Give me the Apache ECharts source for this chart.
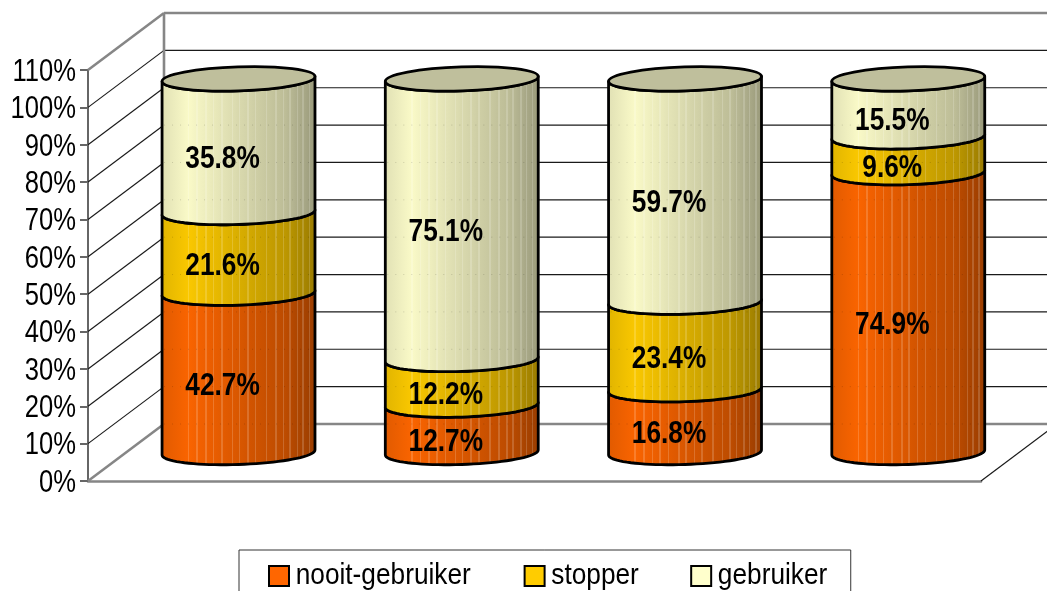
<!DOCTYPE html>
<html><head><meta charset="utf-8">
<style>html,body{margin:0;padding:0;background:#fff;overflow:hidden}#c{width:1047px;height:591px}</style>
<script src="https://cdn.jsdelivr.net/npm/echarts@6/dist/echarts.min.js"></script>
</head><body><div id="c"></div>
<script>
var categories = ['Groep 1', 'Groep 2', 'Groep 3', 'Groep 4'];
var seriesNames = ['nooit-gebruiker', 'stopper', 'gebruiker'];
var nooitGebruiker = [42.7, 12.7, 16.8, 74.9];
var stopper = [21.6, 12.2, 23.4, 9.6];
var gebruiker = [35.8, 75.1, 59.7, 15.5];
var gridTicks = [0,10,20,30,40,50,60,70,80,90,100,110];
var shineTicks = [0,10,20,30,40,50,60,70,80];

var values = [nooitGebruiker, stopper, gebruiker];
var DEPTH_X = 76, DEPTH_Y = -57, BASE_X = 38.9, BASE_Y = -28.5;
var RY = 12, TILT = 2.5, BAR_RATIO = 0.685;
var FONT = '"Liberation Sans",Arial,sans-serif';
var stripes = [.18,.235,.29,.34,.395,.46,.505,.56,.61,.68,.74,.79,.83,.88,.915,.955];

function mix(c, f){
  return 'rgb(' + c.map(function(v){return Math.round(v*f);}).join(',') + ')';
}
function shadeAt(t){
  var pts = [[0,.88],[.12,1],[.5,.85],[.8,.74],[1,.6]];
  for (var i=1;i<pts.length;i++){
    if (t<=pts[i][0]){
      var a=pts[i-1], b=pts[i];
      return a[1]+(b[1]-a[1])*(t-a[0])/(b[0]-a[0]);
    }
  }
  return .6;
}
function lightenMix(c,f,amt){
  return 'rgb(' + c.map(function(v){var x=v*f; return Math.round(x+(255-x)*amt);}).join(',') + ')';
}
function gradient(c){
  var stops = [];
  var w = .005;
  var ts = [0].concat(stripes).concat([1]);
  for (var i=0;i<ts.length-1;i++){
    var a=ts[i], b=ts[i+1];
    stops.push({offset:a+(i?w:0), color:mix(c,shadeAt(a))});
    stops.push({offset:b-w, color:mix(c,shadeAt(b))});
    if (i<ts.length-2){
      stops.push({offset:b-w, color:lightenMix(c,shadeAt(b),.17)});
      stops.push({offset:b+w, color:lightenMix(c,shadeAt(b),.17)});
    }
  }
  return {type:'linear',x:0,y:0,x2:1,y2:0,colorStops:stops};
}
var baseColors = [[255,102,0],[255,204,0],[255,255,204]];
var flatColors = ['#FF6600','#FFCC00','#FFFFCC'];

function arc(cx,cy,rx,fromLeft){
  var out=[];
  for (var i=0;i<=40;i++){
    var t=Math.PI*i/40;
    out.push([cx-rx*Math.cos(t), cy+RY*Math.sin(t)+TILT*Math.cos(t)]);
  }
  return fromLeft?out:out.reverse();
}
function centre(api,cat,val){
  var p=api.coord([cat,val]);
  return [p[0]+BASE_X,p[1]+BASE_Y];
}

function stackData(si){
  return categories.map(function(_,ci){
    var total=0,start=0;
    values.forEach(function(s,k){total+=s[ci]; if(k<si) start+=s[ci];});
    var a=start/total*100, b=(start+values[si][ci])/total*100;
    return [ci,a,b,values[si][ci]];
  });
}

function renderSegment(si){
  return function(params,api){
    var cat=api.value(0), a=api.value(1), b=api.value(2);
    var rx=api.size([1,0])[0]*BAR_RATIO/2;
    var pa=centre(api,cat,a), pb=centre(api,cat,b);
    var lower=arc(pa[0],pa[1],rx,true);
    var upper=arc(pb[0],pb[1],rx,false);
    var outline=lower.concat(upper);
    var kids=[{type:'polygon',shape:{points:outline},
      style:{fill:gradient(baseColors[si]),stroke:'#000',lineWidth:2.8,lineJoin:'round'}}];
    if (si===values.length-1){
      kids.push({type:'ellipse',
        shape:{cx:0,cy:0,rx:rx,ry:RY},
        x:pb[0],y:pb[1],rotation:Math.atan2(TILT,rx),
        style:{fill:'#BFBF9C',stroke:'#000',lineWidth:2.8}});
    }
    return {type:'group',children:kids};
  };
}

var series=[];
// walls
series.push({type:'custom',silent:true,z:1,coordinateSystem:'cartesian2d',
  data:gridTicks.map(function(t){return [0,t];}),
  encode:{x:0,y:1},clip:false,
  renderItem:function(params,api){
    var t=api.value(1);
    var left=api.coord([0,t]);
    var x0=params.coordSys.x, xr=x0+params.coordSys.width;
    var y=left[1];
    var edge=(t===0||t===110);
    var col=edge?'#868686':'#1a1a1a', lw=edge?2.6:1.2;
    var kids=[
      {type:'line',shape:{x1:x0,y1:y,x2:x0+DEPTH_X,y2:y+DEPTH_Y},style:{stroke:col,lineWidth:lw}},
      {type:'line',shape:{x1:x0+DEPTH_X,y1:y+DEPTH_Y,x2:xr+DEPTH_X,y2:y+DEPTH_Y},style:{stroke:col,lineWidth:lw}}
    ];
    if (t===0){
      kids.push({type:'line',shape:{x1:xr,y1:y,x2:xr+DEPTH_X,y2:y+DEPTH_Y},style:{stroke:'#1a1a1a',lineWidth:1.2}});
    }
    if (t===110){
      var yb=api.coord([0,0])[1];
      kids.push({type:'line',shape:{x1:x0+DEPTH_X,y1:y+DEPTH_Y,x2:x0+DEPTH_X,y2:yb+DEPTH_Y},style:{stroke:'#868686',lineWidth:2.6}});
    }
    return {type:'group',children:kids};
  }});
// cylinders
values.forEach(function(s,si){
  series.push({type:'custom',name:seriesNames[si],silent:true,z:3,coordinateSystem:'cartesian2d',
    itemStyle:{color:flatColors[si],borderColor:'#000',borderWidth:2},
    data:stackData(si),encode:{x:0,y:[1,2]},clip:false,
    renderItem:renderSegment(si)});
});
// faint see-through of the back gridlines on the cylinders
var shineData=[];
categories.forEach(function(_,ci){shineTicks.forEach(function(t){shineData.push([ci,t]);});});
series.push({type:'custom',silent:true,z:4,coordinateSystem:'cartesian2d',data:shineData,encode:{x:0,y:1},clip:false,
  renderItem:function(params,api){
    var c=api.value(0), t=api.value(1);
    var p=api.coord([c,t]);
    var rx=api.size([1,0])[0]*BAR_RATIO/2;
    var y=p[1]+DEPTH_Y;
    var cx=p[0]+BASE_X;
    return {type:'line',shape:{x1:cx-rx+2,y1:y,x2:cx+rx-2,y2:y},
      style:{stroke:'rgba(0,0,0,.16)',lineWidth:1,lineDash:[1,7]}};
  }});
// labels
var labelData=[];
values.forEach(function(s,si){stackData(si).forEach(function(d){labelData.push(d);});});
series.push({type:'custom',silent:true,z:5,coordinateSystem:'cartesian2d',data:labelData,encode:{x:0,y:[1,2]},clip:false,
  renderItem:function(params,api){
    var c=centre(api,api.value(0),(api.value(1)+api.value(2))/2);
    return {type:'text',x:c[0]-16,y:c[1]+13,scaleX:.82,
      style:{text:api.value(3).toFixed(1)+'%',font:'bold 32px '+FONT,fill:'#000',align:'center',verticalAlign:'middle'}};
  }});

var chart=echarts.init(document.getElementById('c'),null,{renderer:'canvas'});
chart.setOption({
  animation:false,
  backgroundColor:'#fff',
  grid:{left:88,top:70,width:893,height:411,containLabel:false,outerBoundsMode:'none'},
  xAxis:{type:'category',data:categories,
    axisLine:{lineStyle:{color:'#868686',width:2.6}},axisTick:{show:false},axisLabel:{show:false}},
  yAxis:{type:'value',min:0,max:110,interval:10,
    axisLine:{show:true,lineStyle:{color:'#666',width:2}},
    axisTick:{show:true,length:8,lineStyle:{color:'#666',width:2}},
    splitLine:{show:false},
    axisLabel:{margin:12,color:'#000',fontSize:32,fontFamily:FONT,formatter:'{value}%'}},
  legend:{left:239,top:550,padding:[11,15,30,29],itemGap:24,itemWidth:20,itemHeight:20,icon:'rect',
    borderColor:'#333',borderWidth:1,backgroundColor:'#fff',
    textStyle:{fontSize:30,fontFamily:FONT,color:'#000',padding:[0,0,0,5.5]},
    data:seriesNames.map(function(n,i){
      return {name:n,icon:'rect',itemStyle:{color:flatColors[i],borderColor:'#000',borderWidth:2},
        textStyle:{fontSize:30,fontFamily:FONT,color:'#000',padding:[0,0,0,5.5]}};
    })},
  series:series
});
// The reference type is a condensed face; none is installed, so squeeze the library's own labels.
var condense = function(){
  chart.getZr().storage.getRoots().forEach(function(root){
    var visit=function(el){
      if (el.isGroup){ el.eachChild(visit); return; }
      if (el.style && el.style.text!=null && el.style.font){
        var s=el.style.font;
        if (s.indexOf('bold')>=0) return;
        if (s.indexOf('32px')>=0){
          el.scaleX=.8;
          el.y+=2;
        } else {
          el.scaleX=.875;
          if (el.style.text===seriesNames[2] && el.parent) el.parent.x+=11;
        }
        el.markRedraw();
      }
    };
    visit(root);
  });
  chart.getZr().refresh();
};
condense();
</script></body></html>
